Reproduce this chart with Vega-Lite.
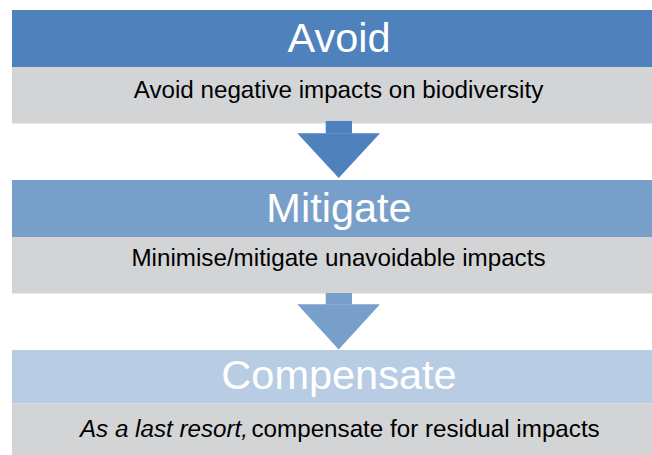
{
  "$schema": "https://vega.github.io/schema/vega-lite/v6.json",
  "width": 652,
  "height": 455,
  "autosize": {"type": "fit", "contains": "padding"},
  "padding": 0,
  "background": "white",
  "config": {"view": {"stroke": null}},
  "datasets": {
    "boxes": [
      {"key": "Avoid header", "x0": 12, "x1": 652, "y0": 10, "y1": 67},
      {"key": "body", "x0": 12, "x1": 652, "y0": 67, "y1": 123.5},
      {"key": "Mitigate header", "x0": 12, "x1": 652, "y0": 180, "y1": 237},
      {"key": "body", "x0": 12, "x1": 652, "y0": 237, "y1": 293.5},
      {"key": "Compensate header", "x0": 12, "x1": 652, "y0": 350, "y1": 403.5},
      {"key": "body", "x0": 12, "x1": 652, "y0": 403.5, "y1": 455}
    ],
    "shafts": [
      {"key": "Avoid header", "x0": 325.7, "x1": 352, "y0": 121, "y1": 133.5},
      {"key": "Mitigate header", "x0": 325.7, "x1": 352, "y0": 293, "y1": 304.5}
    ],
    "heads": [
      {"arrow": "a1", "key": "Avoid header", "x": 297.3, "top": 133.3, "bottom": 133.3},
      {"arrow": "a1", "key": "Avoid header", "x": 338.7, "top": 133.3, "bottom": 178},
      {"arrow": "a1", "key": "Avoid header", "x": 380, "top": 133.3, "bottom": 133.3},
      {"arrow": "a2", "key": "Mitigate header", "x": 297.3, "top": 304.3, "bottom": 304.3},
      {"arrow": "a2", "key": "Mitigate header", "x": 338.7, "top": 304.3, "bottom": 349.5},
      {"arrow": "a2", "key": "Mitigate header", "x": 380, "top": 304.3, "bottom": 304.3}
    ],
    "labels": [
      {"kind": "title", "label": "Avoid", "x": 339, "y": 51.7},
      {"kind": "title", "label": "Mitigate", "x": 339, "y": 221.7},
      {"kind": "title", "label": "Compensate", "x": 339, "y": 388.5},
      {"kind": "sub", "label": "Avoid negative impacts on biodiversity", "x": 338.5, "y": 98.3},
      {"kind": "sub", "label": "Minimise/mitigate unavoidable impacts", "x": 338.5, "y": 266},
      {"kind": "italic", "label": "As a last resort,", "x": 248, "y": 436.7},
      {"kind": "rest", "label": "compensate for residual impacts", "x": 251.5, "y": 436.7}
    ]
  },
  "layer": [
    {
      "data": {"name": "boxes"},
      "mark": {"type": "rect"},
      "encoding": {
        "x": {"field": "x0", "type": "quantitative", "scale": {"domain": [0, 652], "nice": false, "zero": false}, "axis": null},
        "x2": {"field": "x1"},
        "y": {"field": "y0", "type": "quantitative", "scale": {"domain": [0, 455], "reverse": true, "nice": false, "zero": false}, "axis": null},
        "y2": {"field": "y1"},
        "color": {"field": "key", "type": "nominal", "legend": null,
          "scale": {"domain": ["Avoid header", "Mitigate header", "Compensate header", "body"],
                    "range": ["#4f81bd", "#789fca", "#b8cce4", "#d3d4d6"]}}
      }
    },
    {
      "data": {"name": "shafts"},
      "mark": {"type": "rect"},
      "encoding": {
        "x": {"field": "x0", "type": "quantitative"},
        "x2": {"field": "x1"},
        "y": {"field": "y0", "type": "quantitative"},
        "y2": {"field": "y1"},
        "color": {"field": "key", "type": "nominal", "legend": null}
      }
    },
    {
      "data": {"name": "heads"},
      "mark": {"type": "area", "interpolate": "linear", "orient": "vertical"},
      "encoding": {
        "x": {"field": "x", "type": "quantitative"},
        "y": {"field": "top", "type": "quantitative"},
        "y2": {"field": "bottom"},
        "detail": {"field": "arrow"},
        "color": {"field": "key", "type": "nominal", "legend": null}
      }
    },
    {
      "data": {"name": "labels"},
      "transform": [{"filter": "datum.kind === 'title'"}],
      "mark": {"type": "text", "font": "Liberation Sans", "fontSize": 41.5, "color": "white", "align": "center", "baseline": "alphabetic"},
      "encoding": {
        "x": {"field": "x", "type": "quantitative"},
        "y": {"field": "y", "type": "quantitative"},
        "text": {"field": "label"}
      }
    },
    {
      "data": {"name": "labels"},
      "transform": [{"filter": "datum.kind === 'sub'"}],
      "mark": {"type": "text", "font": "Liberation Sans", "fontSize": 24.2, "color": "black", "align": "center", "baseline": "alphabetic"},
      "encoding": {
        "x": {"field": "x", "type": "quantitative"},
        "y": {"field": "y", "type": "quantitative"},
        "text": {"field": "label"}
      }
    },
    {
      "data": {"name": "labels"},
      "transform": [{"filter": "datum.kind === 'italic'"}],
      "mark": {"type": "text", "font": "Liberation Sans", "fontSize": 24.2, "fontStyle": "italic", "color": "black", "align": "right", "baseline": "alphabetic"},
      "encoding": {
        "x": {"field": "x", "type": "quantitative"},
        "y": {"field": "y", "type": "quantitative"},
        "text": {"field": "label"}
      }
    },
    {
      "data": {"name": "labels"},
      "transform": [{"filter": "datum.kind === 'rest'"}],
      "mark": {"type": "text", "font": "Liberation Sans", "fontSize": 24.2, "color": "black", "align": "left", "baseline": "alphabetic"},
      "encoding": {
        "x": {"field": "x", "type": "quantitative"},
        "y": {"field": "y", "type": "quantitative"},
        "text": {"field": "label"}
      }
    }
  ]
}
